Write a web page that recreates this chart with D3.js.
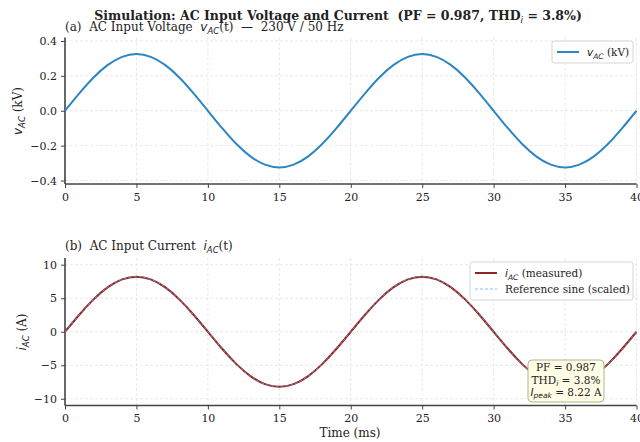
<!DOCTYPE html>
<html lang="en">
<head>
  <meta charset="utf-8">
  <title>AC input voltage and current</title>
  <script src="https://cdn.jsdelivr.net/npm/d3@7"></script>
  <style>
    body { margin: 0px; background: white; }
    svg { display: block; }
    text { font-family: "DejaVu Serif", serif; fill: #222; white-space: pre; }
    .math { font-family: "DejaVu Sans", sans-serif; font-style: italic; }
  </style>
</head>
<body>
  <script type="text/javascript">
    // Data (1 ms steps)
    var timeMs = d3.range(0, 41);
    var voltageKV = [0, 0.100, 0.191, 0.263, 0.309, 0.325, 0.309, 0.263, 0.191, 0.100,
      0, -0.100, -0.191, -0.263, -0.309, -0.325, -0.309, -0.263, -0.191, -0.100,
      0, 0.100, 0.191, 0.263, 0.309, 0.325, 0.309, 0.263, 0.191, 0.100,
      0, -0.100, -0.191, -0.263, -0.309, -0.325, -0.309, -0.263, -0.191, -0.100, 0];
    var currentA = [0, 2.54, 4.83, 6.65, 7.82, 8.22, 7.82, 6.65, 4.83, 2.54,
      0, -2.54, -4.83, -6.65, -7.82, -8.22, -7.82, -6.65, -4.83, -2.54,
      0, 2.54, 4.83, 6.65, 7.82, 8.22, 7.82, 6.65, 4.83, 2.54,
      0, -2.54, -4.83, -6.65, -7.82, -8.22, -7.82, -6.65, -4.83, -2.54, 0];
    var refSineA = [0, 2.54, 4.83, 6.65, 7.82, 8.22, 7.82, 6.65, 4.83, 2.54,
      0, -2.54, -4.83, -6.65, -7.82, -8.22, -7.82, -6.65, -4.83, -2.54,
      0, 2.54, 4.83, 6.65, 7.82, 8.22, 7.82, 6.65, 4.83, 2.54,
      0, -2.54, -4.83, -6.65, -7.82, -8.22, -7.82, -6.65, -4.83, -2.54, 0];
    var xTicks = [0, 5, 10, 15, 20, 25, 30, 35, 40];
    var vTicks = [-0.4, -0.2, 0.0, 0.2, 0.4];
    var iTicks = [-10, -5, 0, 5, 10];

    var width = 640, height = 442;
    var svg = d3.select("body").append("svg")
      .attr("width", width)
      .attr("height", height);

    var x = d3.scaleLinear().domain([0, 40]).range([65, 636.5]);

    // one panel: axes, grid, spines
    function panel(top, bottom, yDomain, ticks, fmt) {
      var y = d3.scaleLinear().domain(yDomain).range([bottom, top]);
      var g = svg.append("g");
      // grid
      g.selectAll(".gx").data(xTicks).enter().append("line")
        .attr("x1", function(d) { return x(d); }).attr("x2", function(d) { return x(d); })
        .attr("y1", top).attr("y2", bottom)
        .attr("stroke", "#e3e3e3").attr("stroke-width", 0.8).attr("stroke-dasharray", "3,2");
      g.selectAll(".gy").data(ticks).enter().append("line")
        .attr("x1", x(0)).attr("x2", x(40))
        .attr("y1", function(d) { return y(d); }).attr("y2", function(d) { return y(d); })
        .attr("stroke", "#e3e3e3").attr("stroke-width", 0.8).attr("stroke-dasharray", "3,2");
      // axes
      var ax = g.append("g").attr("transform", "translate(0," + bottom + ")")
        .call(d3.axisBottom(x).tickValues(xTicks).tickSize(4).tickPadding(5).tickFormat(d3.format("d")));
      var ay = g.append("g").attr("transform", "translate(" + x(0) + ",0)")
        .call(d3.axisLeft(y).tickValues(ticks).tickSize(4).tickPadding(4).tickFormat(fmt));
      [ax, ay].forEach(function(a) {
        a.select(".domain").attr("stroke", "#444").attr("stroke-width", 1.6);
        a.selectAll(".tick line").attr("stroke", "#444").attr("stroke-width", 1);
        a.selectAll(".tick text").style("font-family", "DejaVu Serif").style("font-size", "11px").attr("fill", "#333");
      });
      ax.select(".domain").attr("d", "M" + x(0) + ",0H" + x(40));
      ay.select(".domain").attr("d", "M0," + top + "V" + bottom);
      return y;
    }

    var minus = function(f) { return function(d) { return f(d).replace("-", "\u2212"); }; };
    var yV = panel(37.5, 184, [-0.42, 0.42], vTicks, minus(d3.format(".1f")));
    var yI = panel(258, 405.5, [-11, 11], iTicks, minus(d3.format("d")));

    var curve = d3.curveNatural;
    var lineV = d3.line().curve(curve).x(function(d, i) { return x(timeMs[i]); }).y(function(d) { return yV(d); });
    var lineI = d3.line().curve(curve).x(function(d, i) { return x(timeMs[i]); }).y(function(d) { return yI(d); });

    svg.append("path").datum(voltageKV).attr("d", lineV)
      .attr("fill", "none").attr("stroke", "#2e86c1").attr("stroke-width", 2);
    svg.append("path").datum(currentA).attr("d", lineI)
      .attr("fill", "none").attr("stroke", "#8e2424").attr("stroke-width", 2);
    svg.append("path").datum(refSineA).attr("d", lineI)
      .attr("fill", "none").attr("stroke", "#85c1e9").attr("stroke-width", 1).attr("stroke-dasharray", "3,2").attr("opacity", 0.6);

    // titles
    var title = svg.append("text").attr("x", 338).attr("y", 20).attr("text-anchor", "middle")
      .style("font-size", "12.5px").style("font-weight", "bold");
    title.append("tspan").text("Simulation: AC Input Voltage and Current  (PF = 0.987, THD");
    title.append("tspan").attr("class", "math").attr("dy", 3).style("font-size", "9px").style("font-weight", "normal").text("i");
    title.append("tspan").attr("dy", -3).text(" = 3.8%)");

    function subtitle(yPos, label, sym, rest) {
      var t = svg.append("text").attr("x", 65).attr("y", yPos).style("font-size", "12px");
      t.append("tspan").text(label);
      t.append("tspan").attr("class", "math").text(sym);
      t.append("tspan").attr("class", "math").attr("dy", 3).style("font-size", "8.5px").text("AC");
      t.append("tspan").attr("dy", -3).text(rest);
    }
    subtitle(31, "(a)  AC Input Voltage  ", "v", "(t)  \u2014  230 V / 50 Hz");
    subtitle(250, "(b)  AC Input Current  ", "i", "(t)");

    function ylabel(cx, cy, sym, unit) {
      var t = svg.append("text").attr("transform", "translate(" + cx + "," + cy + ") rotate(-90)")
        .attr("text-anchor", "middle").style("font-size", "12px");
      t.append("tspan").attr("class", "math").text(sym);
      t.append("tspan").attr("class", "math").attr("dy", 3).style("font-size", "8.5px").text("AC");
      t.append("tspan").attr("dy", -3).text(" " + unit);
    }
    ylabel(22, 111, "v", "(kV)");
    ylabel(26, 332, "i", "(A)");

    svg.append("text").attr("x", 350).attr("y", 437).attr("text-anchor", "middle")
      .style("font-size", "12px").text("Time (ms)");

    // legends
    function legend(x0, y0, w, items) {
      var h = items.length * 16 + 6;
      svg.append("rect").attr("x", x0).attr("y", y0).attr("width", w).attr("height", h)
        .attr("rx", 2.5).attr("fill", "white").attr("fill-opacity", 0.9).attr("stroke", "#d5d5d5");
      items.forEach(function(it, k) {
        var yy = y0 + 11 + k * 16;
        svg.append("line").attr("x1", x0 + 5).attr("x2", x0 + 27).attr("y1", yy).attr("y2", yy)
          .attr("stroke", it.color).attr("stroke-width", it.w).attr("stroke-dasharray", it.dash);
        var t = svg.append("text").attr("x", x0 + 35).attr("y", yy + 4).style("font-size", "10.5px");
        if (it.sym) {
          t.append("tspan").attr("class", "math").text(it.sym);
          t.append("tspan").attr("class", "math").attr("dy", 2.5).style("font-size", "7.5px").text("AC");
          t.append("tspan").attr("dy", -2.5).text(it.rest);
        } else {
          t.text(it.rest);
        }
      });
    }
    legend(552, 41, 81, [{ color: "#2e86c1", w: 2, dash: null, sym: "v", rest: " (kV)" }]);
    legend(470, 262, 163, [
      { color: "#8e2424", w: 2, dash: null, sym: "i", rest: " (measured)" },
      { color: "#85c1e9", w: 1, dash: "3,2", sym: null, rest: "Reference sine (scaled)" }
    ]);

    // annotation box
    svg.append("rect").attr("x", 528).attr("y", 360).attr("width", 76).attr("height", 42)
      .attr("rx", 4).attr("fill", "#fffde6").attr("stroke", "#b5b38f").attr("stroke-width", 1);
    var ann = [["PF = 0.987"], ["THD", "i", " = 3.8%"], ["I", "peak", " = 8.22 A"]];
    ann.forEach(function(a, k) {
      var t = svg.append("text").attr("x", 566).attr("y", 371 + k * 12.5).attr("text-anchor", "middle")
        .style("font-size", "10.5px");
      if (a.length === 1) { t.text(a[0]); return; }
      if (k === 1) {
        t.append("tspan").text(a[0]);
      } else {
        t.append("tspan").attr("class", "math").text(a[0]);
      }
      t.append("tspan").attr("class", "math").attr("dy", 2).style("font-size", "7.5px").text(a[1]);
      t.append("tspan").attr("dy", -2).text(a[2]);
    });
  </script>
</body>
</html>
